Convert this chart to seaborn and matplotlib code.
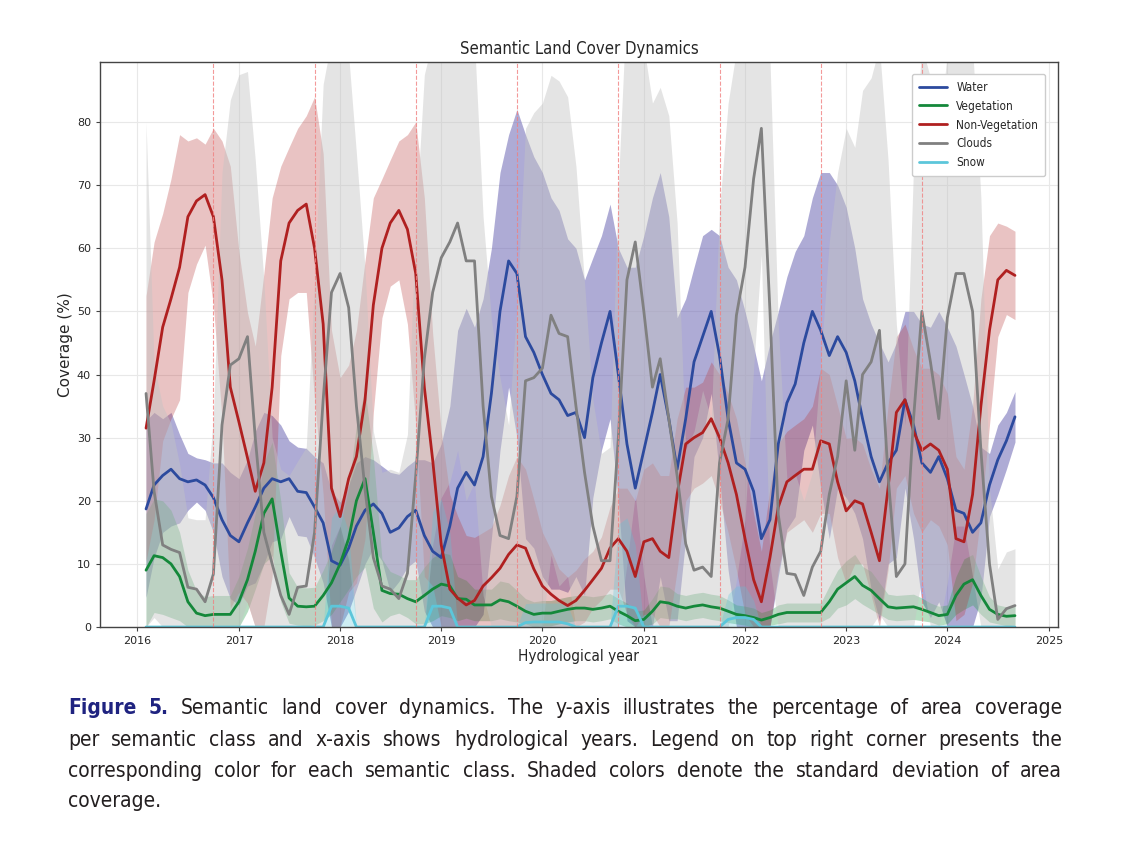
import numpy as np
import pandas as pd
import matplotlib
matplotlib.use('Agg')
import matplotlib.pyplot as plt
import matplotlib.dates as mdates
from matplotlib.font_manager import FontProperties
import seaborn as sns

# monthly samples, Feb 2016 .. Sep 2024
dates = pd.date_range('2016-02-01', periods=104, freq='MS')

water = [18.7, 22.5, 24, 25, 23.5, 23, 23.3, 22.5, 20.5, 17, 14.5, 13.5,
         16.5, 19, 22, 23.5, 23, 23.5, 21.5, 21.3, 19, 16.5, 10.5, 9.8,
         12.5, 16, 18.5, 19.5, 18, 15, 15.7, 17.5, 18.5, 14.5, 12, 11,
         16, 22, 24.5, 22.5, 27, 37, 50, 58, 56, 46, 43.5, 40,
         37, 36, 33.5, 34, 30, 39.5, 45, 50, 40, 29, 22, 28,
         34, 40, 33, 25, 33, 42, 46, 50, 43, 33, 26, 25,
         21.5, 14, 17, 29, 35.5, 38.5, 45, 50, 47, 43, 46, 43.5,
         39, 33, 27, 23, 26, 28, 36, 32, 26, 24.5, 27, 23.5,
         18.5, 18, 15, 16.5, 22.5, 26.5, 29.5, 33.3]
water_std = [14, 11.5, 9, 9, 7, 4.5, 3.5, 4, 5.5, 9, 10, 10,
             10, 12, 12, 10, 9, 6, 7, 7, 8, 9.5, 11, 10,
             10, 10, 8.5, 7, 7.5, 9.5, 8.5, 8, 8, 12, 14, 18,
             19, 25, 26, 25, 25, 23, 22, 20, 26, 32, 31, 32,
             31, 30, 28, 26, 25, 19, 17, 17, 20, 28, 35, 34,
             34, 32, 32, 24, 19, 15, 16, 13, 19, 24, 29, 25,
             23, 25, 28, 21, 20, 21, 17, 18, 25, 29, 24, 23,
             21, 19, 21, 22, 16, 17, 14, 18, 22, 23, 23, 24,
             26, 22, 20, 12, 5, 5.5, 4.5, 4]

vegetation = [9, 11.3, 11, 10, 8, 4, 2.2, 1.8, 2, 2, 2, 4,
              7.5, 12, 18, 20.3, 12, 4.6, 3.3, 3.2, 3.3, 5, 7, 10,
              14, 20, 23.5, 15, 5.8, 5.3, 5.2, 4.5, 4, 5, 6, 6.8,
              6.5, 4.5, 4.4, 3.5, 3.5, 3.5, 4.3, 4, 3.3, 2.5, 2, 2.2,
              2.2, 2.5, 2.8, 3, 3, 2.8, 3, 3.3, 2.5, 1.8, 1, 1.2,
              2.5, 4, 3.8, 3.3, 3, 3.3, 3.5, 3.2, 3, 2.5, 2, 1.8,
              1.5, 1.1, 1.5, 2, 2.3, 2.3, 2.3, 2.3, 2.3, 4, 6, 7,
              8, 6.6, 5.8, 4.5, 3.2, 3, 3.1, 3.2, 2.8, 2.3, 1.8, 2,
              5, 6.8, 7.5, 5, 2.8, 2, 1.7, 1.8]
vegetation_std = [9, 9, 9, 8.5, 7, 5, 3.5, 3, 3, 3, 3, 4,
                  5, 6, 8, 9, 8, 4, 3, 3, 3, 4, 5, 6,
                  8, 12, 14, 12, 5, 3.5, 3, 3, 3.5, 4.5, 5, 5,
                  5, 3.5, 3, 2.5, 2.5, 2.5, 3, 3, 2.5, 2, 2, 2,
                  2, 2, 2, 2, 2, 2, 2, 2, 2, 2, 1.5, 1.5,
                  2, 2.5, 2.5, 2, 2, 2, 2, 2, 2, 1.8, 1.5, 1.5,
                  1.5, 1.2, 1.2, 1.5, 1.5, 1.5, 1.5, 1.5, 1.5, 2.5, 3, 3.5,
                  3.5, 3, 3, 2.5, 2, 2, 2, 2, 1.8, 1.5, 1.5, 1.5,
                  3, 4, 4, 3, 2, 1.5, 1.5, 1.5]

non_vegetation = [31.5, 39, 47.5, 52, 57, 65, 67.5, 68.5, 65, 55, 38, 32.5,
                  26.8, 21.5, 26, 38, 58, 64, 66, 67, 60, 48, 22, 17.5,
                  23.5, 27, 36, 51, 60, 64, 66, 63, 56, 38, 26.5, 13,
                  6, 4.6, 3.5, 4.2, 6.5, 7.8, 9.3, 11.5, 13, 12.5, 9.2, 6.5,
                  5.2, 4.2, 3.4, 4.2, 5.8, 7.5, 9.3, 12.5, 14, 12, 8, 13.5,
                  14, 12, 11, 21, 29, 30, 30.8, 33, 30, 26, 21, 14,
                  7.5, 4, 11, 19, 23, 24, 25, 25, 29.5, 29, 23, 18.4,
                  20, 19.5, 15, 10.5, 22, 34, 36, 31, 28, 29, 28, 25,
                  14, 13.5, 21, 35, 47, 55, 56.5, 55.7]
non_vegetation_std = [21, 22, 18, 19, 21, 12, 10, 8, 14, 22, 35, 27,
                      23, 23, 30, 30, 15, 12, 13, 14, 24, 27, 25, 22,
                      18, 20, 22, 17, 11, 10, 11, 15, 24, 30, 20, 18,
                      15, 13, 11, 10, 8.5, 8, 10, 12.5, 14, 12.5, 11, 8.5,
                      7, 5, 4.5, 4.8, 5, 4.5, 5, 6.5, 8, 10, 12, 11.5,
                      12, 12, 13, 12, 9, 8, 8, 9, 10, 11, 12, 12,
                      10.5, 8, 11, 10, 8, 8, 8, 10, 11.5, 11, 12, 11.5,
                      10, 9.5, 10, 11.5, 13, 12, 12, 13, 13, 12, 12, 12,
                      13, 11.5, 14, 17, 15, 9, 7, 7]

clouds = [37, 21.5, 13, 12.3, 11.8, 6.3, 6, 4, 8.4, 32, 41.5, 42.5,
          46, 30, 15, 10, 5, 2, 6.3, 6.5, 15, 36, 53, 56,
          50.6, 35, 21.8, 11, 6.5, 6, 4.5, 8.5, 24, 42.5, 53, 58.5,
          61, 64, 58, 58, 35, 20.7, 14.5, 14, 20.7, 39, 39.5, 41,
          49.4, 46.5, 46, 35, 24.5, 16, 10.5, 10.5, 30, 55, 61, 50,
          38, 42.5, 33, 24, 13.2, 9, 9.5, 8, 26, 33, 49.4, 57,
          71, 79, 50, 17.8, 8.5, 8.3, 5, 9.5, 12, 21, 27, 39,
          28, 40, 42, 47, 24, 8, 10, 33, 50, 42, 33, 49,
          56, 56, 50, 28, 10, 1.2, 2.9, 3.4]
clouds_std = [43, 20, 22, 20, 14, 11, 11, 13, 25, 40, 42, 45,
              42, 44, 40, 20, 20, 22, 20, 22, 40, 50, 40, 40,
              40, 40, 35, 20, 18, 19, 20, 22, 40, 45, 40, 38,
              38, 36, 38, 35, 30, 28, 25, 18, 30, 40, 42, 42,
              38, 40, 38, 38, 30, 20, 17, 18, 40, 45, 40, 42,
              45, 43, 48, 40, 15, 22, 28, 25, 40, 50, 42, 40,
              30, 20, 40, 30, 15, 16, 15, 15, 30, 40, 45, 40,
              48, 45, 45, 45, 50, 40, 22, 40, 42, 45, 45, 42,
              40, 40, 42, 40, 12, 8, 9, 9]

snow = [0, 0, 0, 0, 0, 0, 0, 0, 0, 0, 0, 0,
        0, 0, 0, 0, 0, 0, 0, 0, 0, 0, 3.3, 3.3,
        3.0, 0, 0, 0, 0, 0, 0, 0, 0, 0, 3.3, 3.3,
        3.0, 0, 0, 0, 0, 0, 0, 0, 0, 0.7, 0.8, 0.8,
        0.8, 0.8, 0.5, 0, 0, 0, 0, 0, 3.3, 3.3, 3.0, 0,
        0, 0, 0, 0, 0, 0, 0, 0, 0, 1.2, 1.5, 1.5,
        1.2, 0, 0, 0, 0, 0, 0, 0, 0, 0, 0, 0,
        0, 0, 0, 0, 0, 0, 0, 0, 0, 0, 0, 0,
        0, 0, 0, 0, 0, 0, 0, 0]
snow_std = [0, 0, 0, 0, 0, 0, 0, 0, 0, 0, 0, 0,
            0, 0, 0, 0, 0, 0, 0, 0, 0, 0, 14, 16,
            12, 0, 0, 0, 0, 0, 0, 0, 0, 0, 15, 17,
            12, 0, 0, 0, 0, 0, 0, 0, 0, 3, 3, 3,
            3, 3, 3, 0, 0, 0, 0, 0, 13, 14, 10, 0,
            0, 0, 0, 0, 0, 0, 0, 0, 0, 4, 5, 5,
            3, 0, 0, 0, 0, 0, 0, 0, 0, 0, 0, 0,
            0, 0, 0, 0, 0, 0, 0, 0, 0, 0, 0, 0,
            0, 0, 0, 0, 0, 0, 0, 0]

classes = ['Water', 'Vegetation', 'Non-Vegetation', 'Clouds', 'Snow']
means = [water, vegetation, non_vegetation, clouds, snow]
stds = [water_std, vegetation_std, non_vegetation_std, clouds_std, snow_std]
line_colors = ['#2c4a9e', '#14883a', '#b02020', '#808080', '#5cc6da']
band_colors = ['#6c66b4', '#2e9e4f', '#b83a3a', '#c4c4c4', '#5cc6da']
band_alpha = [0.55, 0.35, 0.3, 0.45, 0.3]

hydro_starts = pd.to_datetime(['%d-10-01' % y for y in range(2016, 2024)])

sns.set_style('whitegrid', {'grid.color': '#e8e8e8', 'axes.edgecolor': '#444444'})

fig = plt.figure(figsize=(11.42, 8.56), dpi=100)
ax = fig.add_axes([0.0876, 0.2675, 0.8388, 0.660])

for m, s, bc, a in zip(means, stds, band_colors, band_alpha):
    m = np.array(m, dtype=float)
    s = np.array(s, dtype=float)
    ax.fill_between(dates, np.clip(m - s, 0, None), m + s, color=bc, alpha=a, linewidth=0)

for name, m, lc in zip(classes, means, line_colors):
    sns.lineplot(x=dates, y=m, color=lc, linewidth=2.0, label=name, ax=ax)

for d in hydro_starts:
    ax.axvline(d, color='#f08080', linestyle='--', linewidth=0.8, alpha=0.8)

ax.set_xlim(pd.Timestamp('2015-08-19'), pd.Timestamp('2025-02-03'))
ax.set_ylim(0, 89.5)
ax.xaxis.set_major_locator(mdates.YearLocator())
ax.xaxis.set_major_formatter(mdates.DateFormatter('%Y'))
ax.set_yticks(range(0, 90, 10))
ax.tick_params(axis='both', labelsize=8, length=3, color='#444444', bottom=True, left=True)
for sp in ax.spines.values():
    sp.set_visible(True)
    sp.set_color('#444444')
    sp.set_linewidth(1.0)

ax.set_title('Semantic Land Cover Dynamics', fontsize=12, pad=6, fontstretch='condensed')
ax.set_xlabel('Hydrological year', fontsize=11, labelpad=2, fontstretch='condensed')
ax.set_ylabel('Coverage (%)', fontsize=11, labelpad=3)

leg_font = FontProperties(family='DejaVu Sans', stretch='condensed', size=8.5)
leg = ax.legend(loc='upper right', prop=leg_font, frameon=True, framealpha=1.0,
                edgecolor='#cccccc', borderpad=0.6, handlelength=2.4,
                labelspacing=0.5, bbox_to_anchor=(0.993, 0.99))
for ln in leg.get_lines():
    ln.set_linewidth(2.0)

# caption, justified word by word
caption = [
    'Figure 5. Semantic land cover dynamics. The y-axis illustrates the percentage of area coverage',
    'per semantic class and x-axis shows hydrological years. Legend on top right corner presents the',
    'corresponding color for each semantic class. Shaded colors denote the standard deviation of area',
    'coverage.',
]
baselines = [714, 746, 777, 807]
W, H = 1142, 856
x_left, x_right = 68, 1062
cap_kw = dict(family='DejaVu Sans', fontstretch='condensed')

fig.canvas.draw()
renderer = fig.canvas.get_renderer()


def word_widths(words, size):
    out = []
    for w in words:
        t = fig.text(0, 0, w, fontsize=size, **cap_kw)
        out.append(t.get_window_extent(renderer).width)
        t.remove()
    return out


# largest size where every line keeps a gap of at least 6 px
cap_size = 15.0
while cap_size > 9:
    ok = True
    for line in caption[:-1]:
        ws = line.split()
        if sum(word_widths(ws, cap_size)) + 6 * (len(ws) - 1) > x_right - x_left:
            ok = False
            break
    if ok:
        break
    cap_size -= 0.25

for li, (line, yb) in enumerate(zip(caption, baselines)):
    words = line.split()
    texts = []
    for wi, w in enumerate(words):
        is_label = li == 0 and wi < 2
        t = fig.text(0, 1 - yb / H, w, fontsize=cap_size,
                     color='#1f2380' if is_label else '#231f20',
                     fontweight='bold' if is_label else 'normal', va='baseline', **cap_kw)
        texts.append(t)
    widths = [t.get_window_extent(renderer).width for t in texts]
    if li < len(caption) - 1 and len(words) > 1:
        gap = (x_right - x_left - sum(widths)) / (len(words) - 1)
    else:
        gap = 6
    x = x_left
    for t, w in zip(texts, widths):
        t.set_x(x / W)
        x += w + gap

fig.savefig('out.png', dpi=100)
